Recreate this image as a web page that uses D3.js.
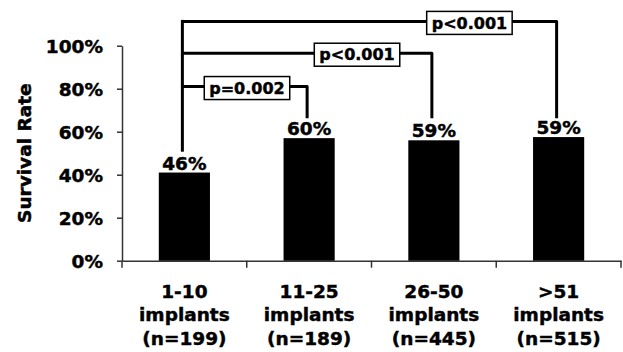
<!DOCTYPE html>
<html><head><meta charset="utf-8">
<script src="https://cdn.jsdelivr.net/npm/d3@7"></script>
<style>body{margin:0;background:#fff}svg{display:block}</style>
</head><body><svg id="c" width="623" height="352"></svg>
<script>
const categories = ["1-10", "11-25", "26-50", ">51"];
const sizes = ["(n=199)", "(n=189)", "(n=445)", "(n=515)"];
const values = [41, 57, 56, 57.5];
const valueLabels = ["46%", "60%", "59%", "59%"];
const yTicks = [0, 20, 40, 60, 80, 100];
const compFrom = [0, 0, 0];
const compTo = [1, 2, 3];
const compLabels = ["p=0.002", "p<0.001", "p<0.001"];
const compLevel = [81, 96.5, 111.3];

const svg = d3.select("#c");
const font = "'DejaVu Sans', Verdana, sans-serif";
const heavy = sel => sel.attr("stroke", "#000").attr("stroke-width", 0.45).attr("paint-order", "stroke");
const x0 = 122, x1 = 621, yTop = 45.7, yBot = 260.7;
const x = d3.scaleBand().domain(categories).range([x0, x1]).paddingInner(0.59).paddingOuter(0.295);
const y = d3.scaleLinear().domain([0, 100]).range([yBot, yTop]);

// y axis
const ya = svg.append("g").attr("transform", `translate(${x0},0)`)
  .call(d3.axisLeft(y).tickValues(yTicks).tickFormat(d => d + "%").tickSize(5).tickSizeOuter(0));
ya.select(".domain").attr("stroke", "#333").attr("stroke-width", 1.5);
ya.selectAll(".tick line").attr("stroke", "#333").attr("stroke-width", 1.5);
ya.selectAll("text").attr("font-family", font).attr("font-weight", "bold").attr("font-size", 18.5)
  .attr("fill", "#000").attr("x", -19).attr("dy", "0.36em").call(heavy);

// x axis
const xa = svg.append("g").attr("transform", `translate(0,${yBot})`)
  .call(d3.axisBottom(x).tickSize(0).tickSizeOuter(0).tickFormat(""));
xa.select(".domain").attr("stroke", "#333").attr("stroke-width", 1.5);
const bounds = d3.range(categories.length + 1).map(i => x0 + i * (x1 - x0) / categories.length);
svg.append("g").selectAll("line").data(bounds).join("line")
  .attr("x1", d => d).attr("x2", d => d).attr("y1", yBot).attr("y2", yBot + 7)
  .attr("stroke", "#333").attr("stroke-width", 1.5);

// category labels
const cl = svg.append("g").attr("font-family", font).attr("font-weight", "bold").attr("font-size", 18.5)
  .attr("text-anchor", "middle").attr("fill", "#000").call(heavy);
categories.forEach((c, i) => {
  const cx = x(c) + x.bandwidth() / 2;
  cl.append("text").attr("x", cx).attr("y", 298).text(c);
  cl.append("text").attr("x", cx).attr("y", 321).text("implants");
  cl.append("text").attr("x", cx).attr("y", 345).text(sizes[i]);
});

// y title
svg.append("text").attr("transform", `translate(31,${(yTop + yBot) / 2}) rotate(-90)`)
  .attr("text-anchor", "middle").attr("font-family", font).attr("font-weight", "bold")
  .attr("font-size", 18.5).text("Survival Rate").call(heavy);

// bars
svg.append("g").selectAll("rect").data(values).join("rect")
  .attr("x", (d, i) => x(categories[i])).attr("width", x.bandwidth())
  .attr("y", d => y(d)).attr("height", d => y(0) - y(d)).attr("fill", "#000");

// value labels
svg.append("g").selectAll("text").data(values).join("text")
  .attr("x", (d, i) => x(categories[i]) + x.bandwidth() / 2).attr("y", d => y(d) - 3)
  .attr("text-anchor", "middle").attr("font-family", font).attr("font-weight", "bold")
  .attr("font-size", 18.5).text((d, i) => valueLabels[i]).call(heavy);

// brackets
const boxPos = [0.518, 0.70, 0.767];
const cx = i => x(categories[i]) + x.bandwidth() / 2 - 2;
const stemBottom = 50.7, endBottom = 66.2;
const br = svg.append("g").attr("fill", "none").attr("stroke", "#000").attr("stroke-width", 3);
br.append("line").attr("x1", cx(0)).attr("x2", cx(0))
  .attr("y1", y(d3.max(compLevel)) - 1.5).attr("y2", y(stemBottom));
compTo.forEach((t, k) => {
  const yl = y(compLevel[k]);
  br.append("path").attr("d", `M${cx(compFrom[k])},${yl}H${cx(t)}V${y(endBottom)}`)
    .attr("stroke-linejoin", "round");
});
const lab = svg.append("g");
compTo.forEach((t, k) => {
  const yl = y(compLevel[k]) + 1.5;
  const bx = cx(compFrom[k]) + boxPos[k] * (cx(t) - cx(compFrom[k]));
  const txt = lab.append("text").attr("x", bx).attr("y", yl).attr("dy", "0.36em")
    .attr("text-anchor", "middle").attr("font-family", font).attr("font-weight", "bold")
    .attr("font-size", 16).text(compLabels[k]).call(heavy);
  const bb = txt.node().getBBox();
  lab.insert("rect", "text").attr("x", bb.x - 5).attr("y", yl - 11.5).attr("width", bb.width + 10)
    .attr("height", 23).attr("fill", "#fff").attr("stroke", "#000").attr("stroke-width", 1.5);
});
</script></body></html>
